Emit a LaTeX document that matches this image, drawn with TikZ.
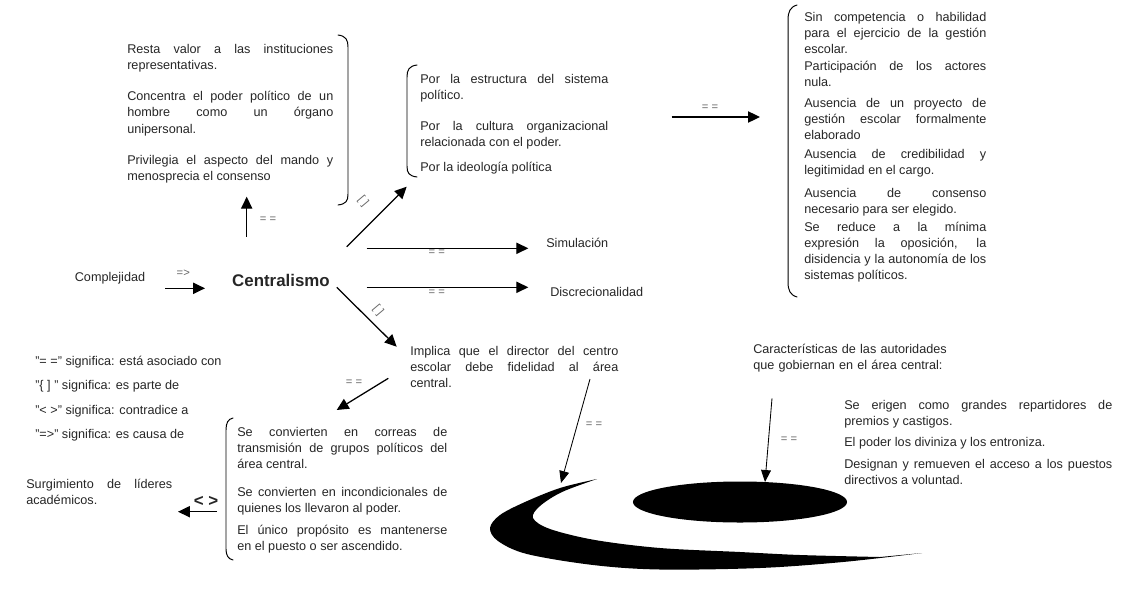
\documentclass[tikz,border=0pt]{standalone}
\usepackage{fontspec}
\setmainfont{Liberation Sans}
\usetikzlibrary{arrows.meta}

\definecolor{tinta}{gray}{0.15}
\definecolor{gris}{gray}{0.4}

\begin{document}
\begin{tikzpicture}[x=0.025cm, y=-0.025cm,
    flecha/.style={-{Triangle[length=8.5pt,width=8pt]}, line width=0.9pt},
    fina/.style={-{Triangle[length=8.5pt,width=7pt]}, line width=0.6pt},
    llave/.style={line width=0.7pt, line cap=round},
    bloque/.style={anchor=base west, inner sep=0pt, align=justify, text=tinta, font=\fontsize{9}{11.5}\selectfont},
    texto/.style={anchor=base west, inner sep=0pt, text=tinta, font=\fontsize{9}{11.5}\selectfont},
    rel/.style={inner sep=0pt, text=gris, font=\fontsize{8}{9}\selectfont}]
    \useasboundingbox (0,0) rectangle (1130,613);

    % centro del mapa
    \node[texto, anchor=base] (complej) at (110,281) {Complejidad};
    \node[text=tinta, font=\bfseries\fontsize{12}{14}\selectfont] (centro) at (281,280) {Centralismo};
    \node[texto] (simul) at (546,247.5) {Simulación};
    \node[texto] (discr) at (550,296.5) {Discrecionalidad};

    % bloques de texto
    \node[bloque, text width=5.15cm] (resta) at (127,53) {Resta valor a las instituciones\linebreak representativas.\par\vspace{11pt}
        Concentra el poder político de un\linebreak hombre como un órgano\linebreak unipersonal.\par\vspace{11pt}
        Privilegia el aspecto del mando y\linebreak menosprecia el consenso};
    \node[bloque, text width=4.7cm] (porla) at (420,83) {Por la estructura del sistema\linebreak político.\par\vspace{11pt}
        Por la cultura organizacional\linebreak relacionada con el poder.\par\vspace{6pt}
        Por la ideología política};
    \node[bloque, text width=4.55cm] (sincomp) at (804,21.5) {Sin competencia o habilidad\linebreak para el ejercicio de la gestión\linebreak escolar.\par
        Participación de los actores\linebreak nula.\par\vspace{3.5pt}
        Ausencia de un proyecto de\linebreak gestión escolar formalmente\linebreak elaborado\par\vspace{2pt}
        Ausencia de credibilidad y\linebreak legitimidad en el cargo.\par\vspace{4.5pt}
        Ausencia de consenso\linebreak necesario para ser elegido.\par\vspace{1pt}
        Se reduce a la mínima\linebreak expresión la oposición, la\linebreak disidencia y la autonomía de los\linebreak sistemas políticos.};
    \node[bloque, text width=5.2cm] (implica) at (410,355) {Implica que el director del centro\linebreak escolar debe fidelidad al área\linebreak central.};
    \node[bloque, text width=5.25cm] (correas) at (237,436.5) {Se convierten en correas de\linebreak transmisión de grupos políticos del\linebreak área central.\par\vspace{8pt}
        Se convierten en incondicionales de\linebreak quienes los llevaron al poder.\par\vspace{4pt}
        El único propósito es mantenerse\linebreak en el puesto o ser ascendido.};
    \node[bloque, text width=3.65cm] (surg) at (26,488) {Surgimiento de líderes\linebreak académicos.};
    \node[texto, text width=5.5cm, align=left] (caract) at (753,353) {Características de las autoridades\\ que gobiernan en el área central:};
    \node[bloque, text width=6.7cm] (erigen) at (844,409) {Se erigen como grandes repartidores de\linebreak premios y castigos.\par\vspace{4pt}
        El poder los diviniza y los entroniza.\par\vspace{4pt}
        Designan y remueven el acceso a los puestos\linebreak directivos a voluntad.};

    % leyenda
    \node[texto] (ley1) at (35,365) {"= =" significa: está asociado con};
    \node[texto] (ley2) at (35,389.5) {"\{ ] " significa: es parte de};
    \node[texto] (ley3) at (35,414) {"< >" significa: contradice a};
    \node[texto] (ley4) at (35,438) {"=>" significa: es causa de};

    % llaves
    \draw[llave] (338,35) .. controls (346,36) and (348,40) .. (348,47) -- (348,194) .. controls (348,201) and (346,204) .. (338,205);
    \draw[llave] (417,65) .. controls (409,66) and (407,70) .. (407,77) -- (407,166) .. controls (407,173) and (409,176) .. (417,177);
    \draw[llave] (797,5) .. controls (790,7) and (788,12) .. (788,20) -- (788,282) .. controls (788,290) and (790,295) .. (797,297);
    \draw[llave] (233,418) .. controls (228,419) and (226,423) .. (226,430) -- (226,549) .. controls (226,555) and (228,559) .. (233,560);

    % flechas
    \coordinate (c1) at (165,288.3);   \coordinate (c2) at (205,288.3);
    \coordinate (u1) at (246.7,236.7); \coordinate (u2) at (246.7,196.7);
    \coordinate (d1) at (346.7,246.7); \coordinate (d2) at (406.7,186.7);
    \coordinate (s1) at (366.7,248.3); \coordinate (s2) at (528.3,248.3);
    \coordinate (t1) at (366.7,287.3); \coordinate (t2) at (528.3,287.3);
    \coordinate (b1) at (336.7,287.3); \coordinate (b2) at (396.7,346.7);
    \coordinate (p1) at (671.7,117);   \coordinate (p2) at (760,117);
    \coordinate (i1) at (388.3,378.3); \coordinate (i2) at (336.7,410);
    \coordinate (l1) at (217,511.7);   \coordinate (l2) at (178,511.7);
    \coordinate (e1) at (590,379);     \coordinate (e2) at (561,483);
    \coordinate (a1) at (772,398.3);   \coordinate (a2) at (765,482);

    \draw[flecha] (c1) -- (c2);
    \draw[flecha] (u1) -- (u2);
    \draw[flecha] (d1) -- (d2);
    \draw[flecha] (s1) -- (s2);
    \draw[flecha] (t1) -- (t2);
    \draw[flecha] (b1) -- (b2);
    \draw[flecha] (p1) -- (p2);
    \draw[flecha] (i1) -- (i2);
    \draw[flecha] (l1) -- (l2);
    \draw[fina] (e1) -- (e2);
    \draw[fina] (a1) -- (a2);

    % etiquetas de las relaciones
    \node[rel] (rc) at (183.3,273) {=>};
    \node[rel] (ru) at (268,220) {= =};
    \node[rel, rotate=-50] (rd) at (363,201.5) {[ ]};
    \node[rel] (rs) at (436.7,252.5) {= =};
    \node[rel] (rt) at (436.7,292.5) {= =};
    \node[rel, rotate=-50] (rb) at (378,310) {[ ]};
    \node[rel] (rp) at (710,108) {= =};
    \node[rel] (ri) at (354,382.5) {= =};
    \node[inner sep=0pt, text=tinta, font=\bfseries\fontsize{12}{14}\selectfont] (rl) at (206,501) {< >};
    \node[rel] (re) at (594,425) {= =};
    \node[rel] (ra) at (789,440) {= =};

    % area central y su orbita
    \fill[black] plot[smooth, tension=0.55] coordinates {(597,479) (560,488) (525,502) (500,515) (490,528) (498,541) (527,554) (593,565) (660,569.5) (760,568) (843,562) (922,553)}
        -- plot[smooth, tension=0.55] coordinates {(880,557) (800,555) (740,552) (660,548) (595,540) (550,529) (533,518) (540,506) (562,492) (597,479)} -- cycle;
    \fill[black] (740,502) ellipse [x radius=2.675cm, y radius=0.5125cm];
\end{tikzpicture}
\end{document}
